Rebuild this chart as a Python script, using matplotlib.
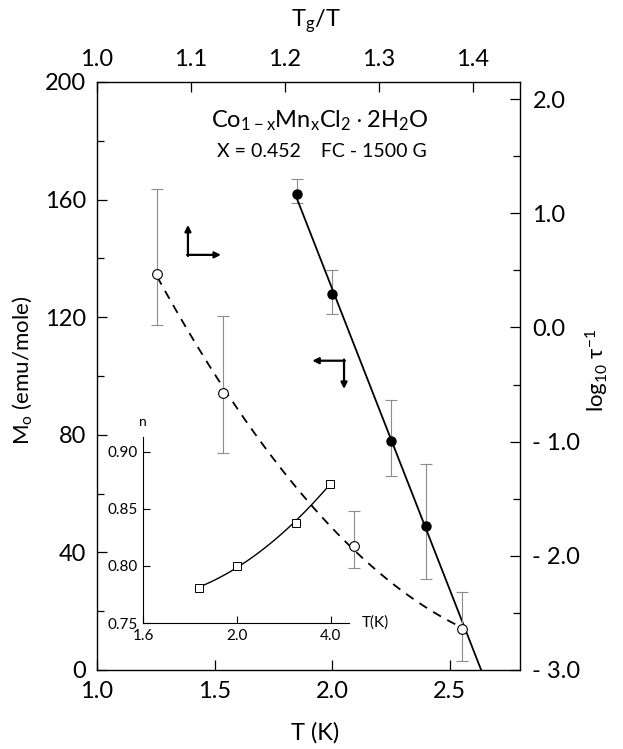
import matplotlib
matplotlib.use('Agg')
from matplotlib import pyplot as plt
from matplotlib.ticker import MultipleLocator
import numpy as np

plt.rcParams['font.family'] = ['Lato', 'DejaVu Sans']
plt.rcParams['mathtext.default'] = 'regular'

# filled circles: M0 against T (bottom / left axes)
T_fc = [1.85, 2.0, 2.25, 2.4]
M0 = [162, 128, 78, 49]
M0_lo = [3, 7, 12, 18]
M0_hi = [5, 8, 14, 21]

# open circles: log10 tau^-1 against Tg/T (top / right axes)
tg_ratio = [1.064, 1.134, 1.273, 1.388]
log_rate = [0.47, -0.57, -1.91, -2.64]
rate_hi = [1.21, 0.10, -1.61, -2.32]
rate_lo = [0.02, -1.10, -2.11, -2.92]

# inset: exponent n against T
T_n = [1.84, 2.0, 2.25, 2.395]
n_exp = [0.781, 0.800, 0.838, 0.872]

bottom_ticks = [1.0, 1.5, 2.0, 2.5]
bottom_labels = ['1.0', '1.5', '2.0', '2.5']
top_ticks = [1.0, 1.1, 1.2, 1.3, 1.4]
top_labels = ['1.0', '1.1', '1.2', '1.3', '1.4']
right_ticks = [2.0, 1.0, 0.0, -1.0, -2.0, -3.0]
right_labels = ['2.0', '1.0', '0.0', '- 1.0', '- 2.0', '- 3.0']
inset_xticks = [1.6, 2.0, 2.4]
inset_xlabels = ['1.6', '2.0', '4.0']
inset_yticks = [0.75, 0.80, 0.85, 0.90]
inset_ylabels = ['0.75', '0.80', '0.85', '0.90']

fig = plt.figure(figsize=(6.23, 7.49), dpi=100)
pos = [97 / 623, 79 / 749, 423 / 623, 588 / 749]

ax = fig.add_axes(pos)
ax2 = fig.add_axes(pos, frameon=False)
ax2.patch.set_visible(False)

# main axes
ax.set_xlim(1.0, 2.8)
ax.set_ylim(0, 200)
ax.set_xticks(bottom_ticks)
ax.set_xticklabels(bottom_labels)
ax.yaxis.set_major_locator(MultipleLocator(40))
ax.yaxis.set_minor_locator(MultipleLocator(20))
ax.tick_params(which='both', direction='in', top=False, right=False,
               labelsize=17, pad=8)
ax.tick_params(which='major', length=7, width=0.9)
ax.tick_params(which='minor', length=5, width=0.9)
for s in ax.spines.values():
    s.set_linewidth(1.0)

ax.errorbar(T_fc, M0, yerr=[M0_lo, M0_hi], fmt='none', ecolor='0.55',
            elinewidth=0.8, capsize=4, capthick=0.8)
ax.plot(T_fc, M0, 'o', color='black', ms=6.5)
slope, icpt = np.polyfit(T_fc, M0, 1)
t_line = np.array([T_fc[0], -icpt / slope])
ax.plot(t_line, slope * t_line + icpt, color='black', lw=1.3)

ax.set_ylabel('M$_o$ (emu/mole)', fontsize=16)
ax.yaxis.set_label_coords(-0.148, 0.51)
ax.set_xlabel('T (K)', fontsize=17)
ax.xaxis.set_label_coords(0.515, -0.088)

# secondary axes: top and right
ax2.set_xlim(1.0, 1.45)
ax2.set_ylim(-3.0, 2.15)
ax2.xaxis.tick_top()
ax2.yaxis.tick_right()
ax2.xaxis.set_label_position('top')
ax2.yaxis.set_label_position('right')
ax2.set_xticks(top_ticks)
ax2.set_xticklabels(top_labels)
ax2.set_yticks(right_ticks)
ax2.set_yticklabels(right_labels)
ax2.yaxis.set_minor_locator(MultipleLocator(0.5))
ax2.tick_params(which='both', direction='in', labelsize=17, pad=9)
ax2.tick_params(which='major', length=7, width=0.9)
ax2.tick_params(which='minor', length=5, width=0.9)

ax2.errorbar(tg_ratio, log_rate,
             yerr=[np.subtract(log_rate, rate_lo), np.subtract(rate_hi, log_rate)],
             fmt='none', ecolor='0.55', elinewidth=0.8, capsize=4, capthick=0.8)
coef = np.polyfit(tg_ratio, log_rate, 2)
g = np.linspace(tg_ratio[0], tg_ratio[-1], 200)
ax2.plot(g, np.polyval(coef, g), color='black', lw=1.3, ls=(0, (5, 4)))
ax2.plot(tg_ratio, log_rate, 'o', mfc='white', mec='black', mew=0.8, ms=7)

ax2.set_xlabel('T$_g$/T', fontsize=17)
ax2.xaxis.set_label_coords(0.517, 1.095)
ax2.set_ylabel(r'log$_{10}$ $\tau^{-1}$', fontsize=16)
ax2.yaxis.set_label_coords(1.15, 0.51)

# compound and field annotation
ax.text(0.527, 0.935, r'Co$_{1-x}$Mn$_x$Cl$_2\cdot$2H$_2$O', transform=ax.transAxes,
        ha='center', va='center', fontsize=17)
ax.text(0.532, 0.881, 'X = 0.452    FC - 1500 G', transform=ax.transAxes,
        ha='center', va='center', fontsize=14)

# axis-direction arrows
arw = dict(arrowstyle='-|>', color='black', lw=1.6, mutation_scale=9,
           shrinkA=0, shrinkB=0)
ax.annotate('', xy=(0.215, 0.757), xytext=(0.215, 0.704),
            xycoords='axes fraction', arrowprops=arw)
ax.annotate('', xy=(0.293, 0.706), xytext=(0.213, 0.706),
            xycoords='axes fraction', arrowprops=arw)
ax.annotate('', xy=(0.509, 0.526), xytext=(0.586, 0.526),
            xycoords='axes fraction', arrowprops=arw)
ax.annotate('', xy=(0.584, 0.478), xytext=(0.584, 0.528),
            xycoords='axes fraction', arrowprops=arw)

# inset
axi = fig.add_axes([143 / 623, 126 / 749, 206 / 623, 186 / 749])
axi.patch.set_visible(False)
axi.set_xlim(1.6, 2.477)
axi.set_ylim(0.75, 0.913)
for side in ['top', 'right']:
    axi.spines[side].set_visible(False)
axi.set_xticks(inset_xticks)
axi.set_xticklabels(inset_xlabels)
axi.set_yticks(inset_yticks)
axi.set_yticklabels(inset_ylabels)
axi.tick_params(direction='in', length=5, width=0.8, labelsize=11, pad=4)
c2 = np.polyfit(T_n, n_exp, 2)
tt = np.linspace(T_n[0], T_n[-1], 100)
axi.plot(tt, np.polyval(c2, tt), color='black', lw=1.0)
axi.plot(T_n, n_exp, 's', mfc='white', mec='black', mew=0.7, ms=6)
axi.text(0.0, 1.08, 'n', transform=axi.transAxes, ha='center', va='center',
         fontsize=10)
axi.text(1.06, 0.0, 'T(K)', transform=axi.transAxes, ha='left', va='center',
         fontsize=11)

fig.savefig('out.png', dpi=100)
